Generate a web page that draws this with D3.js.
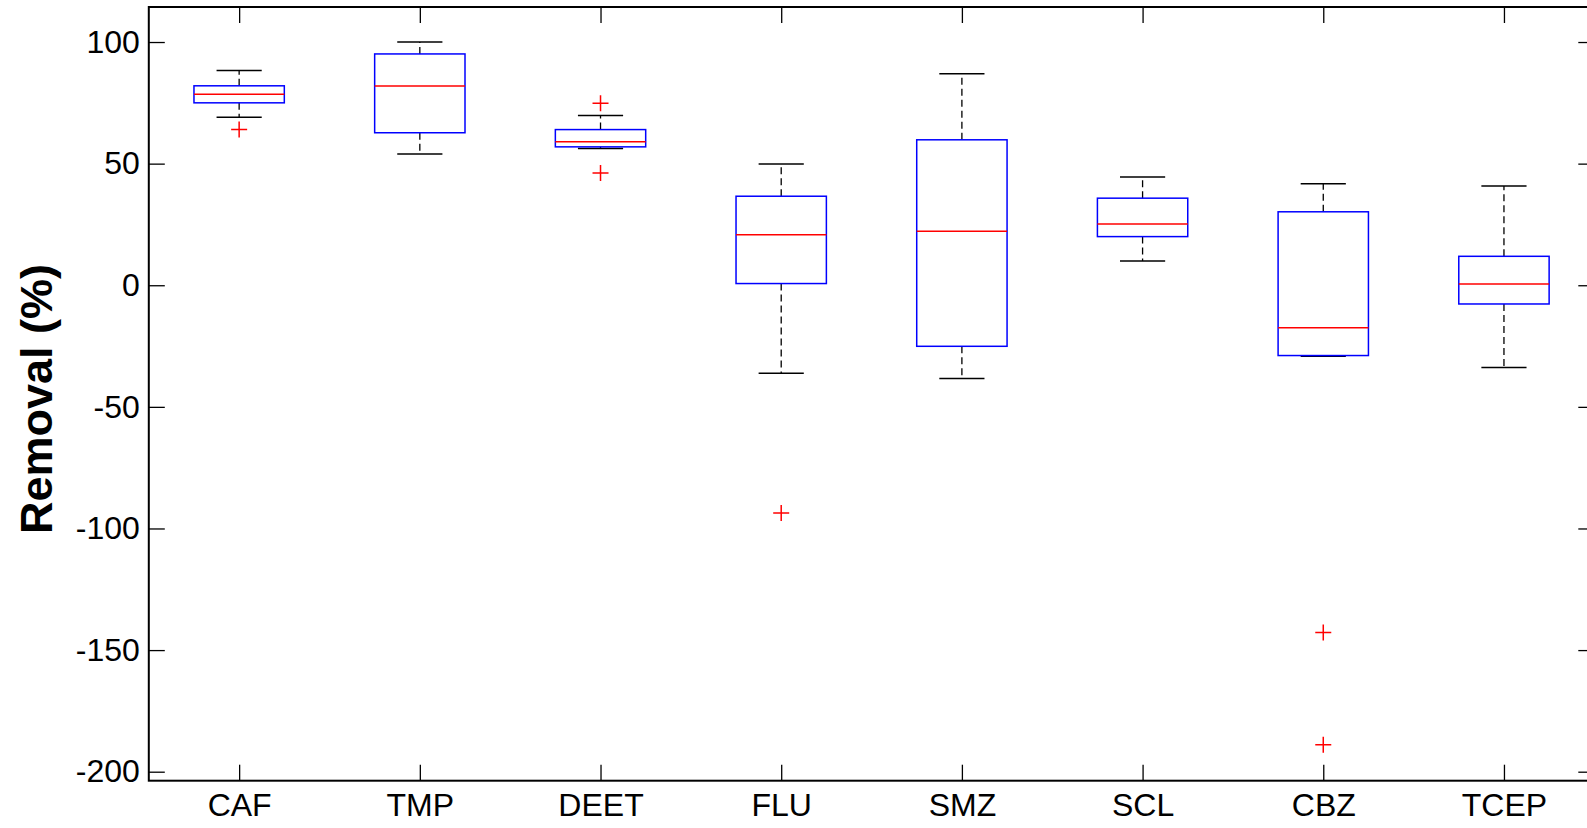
<html>
  <head>
    <meta charset="utf-8">
    <style>
      body {
        margin: 0;
        background: #fff;
      }
      text {
        font-family: "Liberation Sans", Arial, sans-serif;
        fill: #000;
      }
      .tick line {
        stroke: #000;
        stroke-width: 1.3px;
      }
    </style>
  </head>
  <body>
    <script src="https://cdnjs.cloudflare.com/ajax/libs/d3/7.8.5/d3.min.js"></script>
    <script>
      var width = 1587, height = 828;

      // box statistics (Removal %)
      var categories   = ["CAF", "TMP", "DEET", "FLU", "SMZ", "SCL", "CBZ", "TCEP"];
      var upperWhisker = [88.3, 100, 69.8, 49.8, 87.0, 44.5, 41.7, 40.8];
      var q3           = [82.0, 95.1, 64.0, 36.6, 59.8, 35.8, 30.2, 11.9];
      var median       = [78.5, 81.9, 59.0, 20.8, 22.2, 25.2, -17.5, 0.5];
      var q1           = [75.0, 62.7, 56.9, 0.7, -25.1, 20.0, -28.9, -7.7];
      var lowerWhisker = [69.1, 54.0, 56.2, -36.2, -38.3, 10.0, -29.2, -33.8];
      var outliers     = [[64.0], [], [74.8, 46.1], [-93.6], [], [], [-142.8, -188.9], []];
      var yTicks = [-200, -150, -100, -50, 0, 50, 100];

      var boxes = categories.map(function(c, i){
        return { name: c, pos: i + 1, uw: upperWhisker[i], q3: q3[i], med: median[i],
                 q1: q1[i], lw: lowerWhisker[i], out: outliers[i] };
      });

      // plot frame (right edge lies just past the window, as in the original)
      var plotL = 148.8, plotR = 1594.3, plotT = 7, plotB = 780.7;

      var x = d3.scaleLinear().domain([0.5, 8.5]).range([plotL, plotR]);
      var y = d3.scaleLinear().domain([-203.7, 114.4]).range([plotB, plotT]);

      var svg = d3.select("body").append("svg")
          .attr("width", width)
          .attr("height", height);

      // axes, ticks pointing inwards like matlab
      svg.append("g")
          .attr("transform", "translate(" + plotL + ",0)")
          .call(d3.axisLeft(y).tickValues(yTicks).tickSize(-16).tickPadding(9)
              .tickFormat(function(d){ return String(d); }))
          .call(function(g){ g.select(".domain").remove(); })
          .selectAll("text").style("font-size", "32px");

      svg.append("g")
          .attr("transform", "translate(" + plotR + ",0)")
          .call(d3.axisRight(y).tickValues(yTicks).tickSize(-16).tickFormat(""))
          .call(function(g){ g.select(".domain").remove(); });

      svg.append("g")
          .attr("transform", "translate(0," + plotB + ")")
          .call(d3.axisBottom(x).tickValues(d3.range(1, 9)).tickSize(-16).tickPadding(12)
              .tickFormat(function(d){ return categories[d - 1]; }))
          .call(function(g){ g.select(".domain").remove(); })
          .selectAll("text").style("font-size", "32px").attr("dy", "0.72em");

      svg.append("g")
          .attr("transform", "translate(0," + plotT + ")")
          .call(d3.axisTop(x).tickValues(d3.range(1, 9)).tickSize(-16).tickFormat(""))
          .call(function(g){ g.select(".domain").remove(); });

      svg.append("rect")
          .attr("x", plotL)
          .attr("y", plotT)
          .attr("width", plotR - plotL)
          .attr("height", plotB - plotT)
          .attr("fill", "none")
          .attr("stroke", "#000")
          .attr("stroke-width", 2);

      svg.append("text")
          .attr("transform", "translate(52,399) rotate(-90)")
          .attr("text-anchor", "middle")
          .style("font-size", "45px")
          .style("font-weight", "bold")
          .text("Removal (%)");

      var g = svg.append("g").selectAll("g")
          .data(boxes)
        .enter().append("g");

      // dashed whiskers
      g.append("line")
          .attr("x1", function(d){ return x(d.pos); })
          .attr("x2", function(d){ return x(d.pos); })
          .attr("y1", function(d){ return y(d.q3); })
          .attr("y2", function(d){ return y(d.uw); })
          .attr("stroke", "#000").attr("stroke-width", 1.3).attr("stroke-dasharray", "7,4");
      g.append("line")
          .attr("x1", function(d){ return x(d.pos); })
          .attr("x2", function(d){ return x(d.pos); })
          .attr("y1", function(d){ return y(d.q1); })
          .attr("y2", function(d){ return y(d.lw); })
          .attr("stroke", "#000").attr("stroke-width", 1.3).attr("stroke-dasharray", "7,4");

      // caps
      ["uw", "lw"].forEach(function(k){
        g.append("line")
            .attr("x1", function(d){ return x(d.pos - 0.125); })
            .attr("x2", function(d){ return x(d.pos + 0.125); })
            .attr("y1", function(d){ return y(d[k]); })
            .attr("y2", function(d){ return y(d[k]); })
            .attr("stroke", "#000").attr("stroke-width", 1.5);
      });

      g.append("rect")
          .attr("x", function(d){ return x(d.pos - 0.25); })
          .attr("width", function(d){ return x(d.pos + 0.25) - x(d.pos - 0.25); })
          .attr("y", function(d){ return y(d.q3); })
          .attr("height", function(d){ return y(d.q1) - y(d.q3); })
          .attr("fill", "none")
          .attr("stroke", "#0000ff")
          .attr("stroke-width", 1.5);

      g.append("line")
          .attr("x1", function(d){ return x(d.pos - 0.25); })
          .attr("x2", function(d){ return x(d.pos + 0.25); })
          .attr("y1", function(d){ return y(d.med); })
          .attr("y2", function(d){ return y(d.med); })
          .attr("stroke", "#ff0000").attr("stroke-width", 1.5);

      g.selectAll("path.out")
          .data(function(d){ return d.out.map(function(v){ return { pos: d.pos, v: v }; }); })
        .enter().append("path")
          .attr("class", "out")
          .attr("d", function(d){
            var cx = x(d.pos), cy = y(d.v), s = 8;
            return "M" + (cx - s) + "," + cy + "H" + (cx + s) + "M" + cx + "," + (cy - s) + "V" + (cy + s);
          })
          .attr("stroke", "#ff0000")
          .attr("stroke-width", 1.5)
          .attr("fill", "none");
    </script>
  </body>
</html>
